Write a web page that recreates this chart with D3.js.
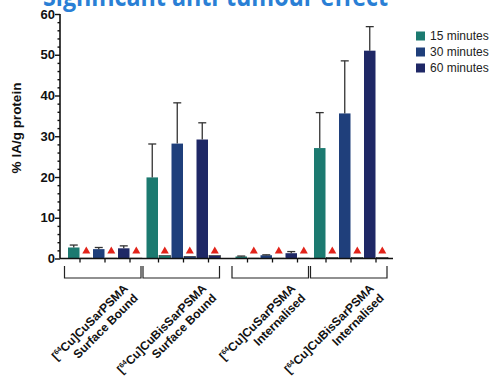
<!DOCTYPE html>
<html>
<head>
<meta charset="utf-8">
<script src="https://cdn.jsdelivr.net/npm/d3@7"></script>
<style>
  html, body { margin: 0; padding: 0; background: #fff; }
  svg { display: block; font-family: Arial, "Liberation Sans", sans-serif; }
</style>
</head>
<body>
<svg id="chart" width="491" height="379"></svg>
<script>
// Uptake (% IA/g protein) by compound fraction and incubation time
const groups = [
  ["CuSarPSMA", "Surface Bound"],
  ["CuBisSarPSMA", "Surface Bound"],
  ["CuSarPSMA", "Internalised"],
  ["CuBisSarPSMA", "Internalised"]
];
const times = ["15 minutes", "30 minutes", "60 minutes"];
const colors = ["#1c7a70", "#1f3f7b", "#1f2866"];

// unblocked uptake, mean and SD (per group, per time)
const meanValues = [
  [2.7, 2.3, 2.5],
  [19.9, 28.2, 29.2],
  [0.5, 0.8, 1.3],
  [27.1, 35.6, 51.0]
];
const sdValues = [
  [0.6, 0.4, 0.6],
  [8.2, 10.0, 4.1],
  [0.1, 0.1, 0.4],
  [8.7, 12.9, 5.9]
];
// blocked uptake (co-incubated with inhibitor)
const blockedValues = [
  [0.1, 0.1, 0.1],
  [0.7, 0.5, 0.7],
  [0.1, 0.1, 0.1],
  [0.2, 0.2, 0.2]
];
const yTicks = [0, 10, 20, 30, 40, 50, 60];

const svg = d3.select("#chart");

// title (partly above the page top)
svg.append("text")
  .attr("x", 43).attr("y", 6)
  .attr("textLength", 345).attr("lengthAdjust", "spacingAndGlyphs")
  .attr("fill", "#2a7fd5")
  .attr("font-family", "'Open Sans', Roboto, sans-serif")
  .attr("font-weight", "bold")
  .attr("font-size", 27)
  .text("Significant anti-tumour effect");

const y = d3.scaleLinear().domain([0, 60]).range([258.5, 14]);

// slot position of each (group, time) tick; wider gap between the two fractions
const slot = (g, t) => g * 3.14 + (g >= 2 ? 0.42 : 0) + t;
const x = d3.scaleLinear().domain([0, 1]).range([80, 105]);
const barW = 11.5;

// y axis with minor ticks
const yAxisG = svg.append("g").attr("transform", "translate(60,0)");
yAxisG.call(d3.axisLeft(y).tickValues(d3.range(0, 61, 2)).tickSize(2.5).tickFormat(""));
yAxisG.call(g => g.selectAll(".tick").filter(d => d % 10 === 0).select("line").attr("x2", -5));
yAxisG.selectAll("path").attr("stroke", "#111").attr("stroke-width", 1.6);
yAxisG.selectAll("line").attr("stroke", "#111").attr("stroke-width", 1.4);
yAxisG.select(".domain").attr("d", `M0,${y(0)}V${y(60)}`);
yAxisG.selectAll(".tickLabel")
  .data(yTicks).enter().append("text")
  .attr("x", -5).attr("y", d => y(d)).attr("dy", "0.35em")
  .attr("text-anchor", "end")
  .attr("font-weight", "bold").attr("font-size", 13).attr("fill", "#111")
  .text(d => d);

svg.append("text")
  .attr("transform", "translate(21,128) rotate(-90)")
  .attr("text-anchor", "middle")
  .attr("font-weight", "bold").attr("font-size", 13.5).attr("fill", "#111")
  .text("% IA/g protein");

// bar data flattened
const cells = [];
groups.forEach((grp, g) => times.forEach((tm, t) => cells.push({
  g, t, pos: x(slot(g, t)), mean: meanValues[g][t], sd: sdValues[g][t], blocked: blockedValues[g][t]
})));

// unblocked bars
svg.append("g").selectAll("rect").data(cells).enter().append("rect")
  .attr("x", d => d.pos - barW - 0.5)
  .attr("y", d => y(d.mean))
  .attr("width", barW)
  .attr("height", d => y(0) - y(d.mean))
  .attr("fill", d => colors[d.t]);

// error bars (upper only)
const eb = svg.append("g").attr("stroke", "#333").attr("stroke-width", 1.3);
eb.selectAll("line.v").data(cells).enter().append("line")
  .attr("x1", d => d.pos - barW / 2 - 0.5).attr("x2", d => d.pos - barW / 2 - 0.5)
  .attr("y1", d => y(d.mean)).attr("y2", d => y(d.mean + d.sd));
eb.selectAll("line.c").data(cells).enter().append("line")
  .attr("x1", d => d.pos - barW / 2 - 4.5).attr("x2", d => d.pos - barW / 2 + 3.5)
  .attr("y1", d => y(d.mean + d.sd)).attr("y2", d => y(d.mean + d.sd));

// blocked bars
svg.append("g").selectAll("rect").data(cells).enter().append("rect")
  .attr("x", d => d.pos + 0.5)
  .attr("y", d => y(d.blocked))
  .attr("width", barW)
  .attr("height", d => y(0) - y(d.blocked))
  .attr("fill", d => colors[d.t])
  .attr("stroke", "#222").attr("stroke-width", 0.6);

// significance markers above blocked bars
svg.append("g").selectAll("path").data(cells).enter().append("path")
  .attr("transform", d => `translate(${d.pos + 6.3},${Math.min(y(d.blocked) - 2, y(0) - 5)})`)
  .attr("d", "M-4,0 L4,0 L0,-7 Z")
  .attr("fill", "#e2231a");

// x axis
const xAxisG = svg.append("g").attr("transform", `translate(0,${y(0)})`);
xAxisG.append("line").attr("x1", 60).attr("x2", 393).attr("y1", 0).attr("y2", 0)
  .attr("stroke", "#111").attr("stroke-width", 1.6);
xAxisG.selectAll("line.tick").data(cells).enter().append("line")
  .attr("x1", d => d.pos).attr("x2", d => d.pos).attr("y1", 0).attr("y2", 4)
  .attr("stroke", "#111").attr("stroke-width", 1.3);

// group brackets and labels
const bracket = svg.append("g");
groups.forEach((grp, g) => {
  const x0 = x(slot(g, 0)) - 15.5, x1 = x(slot(g, 2)) + 11;
  bracket.append("path")
    .attr("d", `M${x0},266V278H${x1}V266`)
    .attr("fill", "none").attr("stroke", "#222").attr("stroke-width", 1.2);
  const cx = (x0 + x1) / 2;
  const lbl = bracket.append("text")
    .attr("transform", `translate(${cx + 26},${289}) rotate(-45)`)
    .attr("text-anchor", "end")
    .attr("font-weight", "bold").attr("font-size", 12).attr("fill", "#111");
  const l1 = lbl.append("tspan").attr("x", 0).attr("y", 0);
  l1.append("tspan").text("[");
  l1.append("tspan").attr("font-size", 7).attr("dy", -4.5).text("64");
  l1.append("tspan").attr("dy", 4.5).text("Cu]" + grp[0]);
  lbl.append("tspan").attr("x", 0).attr("y", 14).text(grp[1]);
});

// legend
const lg = svg.append("g").attr("transform", "translate(416,36)");
times.forEach((tm, i) => {
  lg.append("rect").attr("x", 0).attr("y", i * 16 - 4.5).attr("width", 9).attr("height", 9).attr("fill", colors[i]);
  lg.append("text").attr("x", 14).attr("y", i * 16).attr("dy", "0.35em")
    .attr("font-size", 12).attr("fill", "#222").text(tm);
});
</script>
</body>
</html>
